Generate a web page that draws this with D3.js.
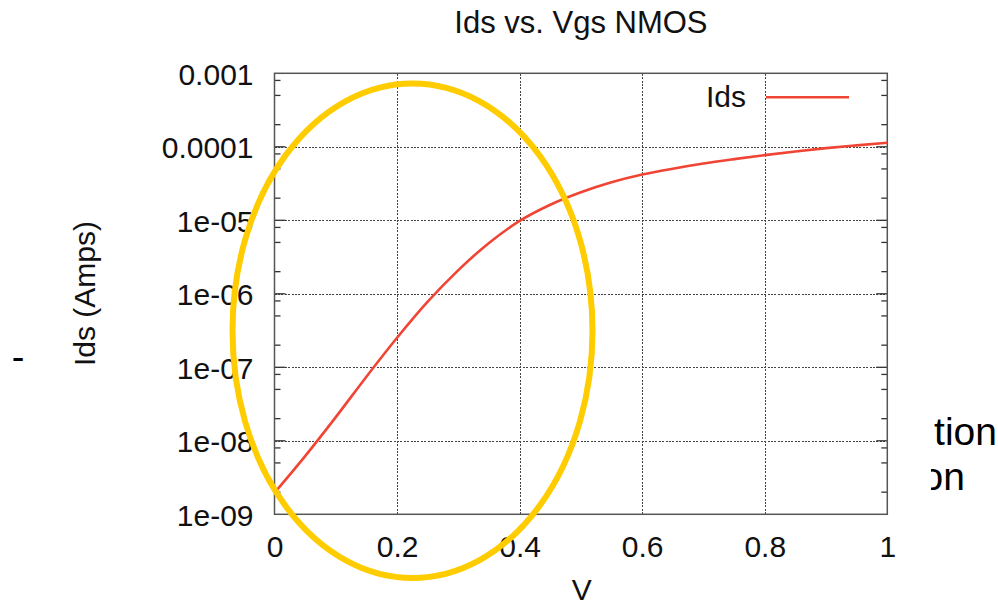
<!DOCTYPE html>
<html>
<head>
<meta charset="utf-8">
<script src="https://cdn.jsdelivr.net/npm/d3@7/dist/d3.min.js"></script>
<style>
  html, body { margin: 0; padding: 0; background: #fff; }
  svg { display: block; }
  text { font-family: "Liberation Sans", Arial, Helvetica, sans-serif; fill: #111; }
</style>
</head>
<body>
<svg id="chart" width="998" height="604"></svg>
<script>
// Gate voltage sweep (V) and drain current (A)
const vgs = [0.00, 0.05, 0.10, 0.15, 0.20, 0.25, 0.30, 0.35, 0.40, 0.45, 0.50,
             0.55, 0.60, 0.65, 0.70, 0.75, 0.80, 0.85, 0.90, 0.95, 1.00];
const ids = [1.96e-9, 6.19e-9, 2.10e-8, 7.45e-8, 2.52e-7, 7.80e-7, 2.10e-6, 4.92e-6, 9.82e-6, 1.63e-5, 2.41e-5,
             3.29e-5, 4.19e-5, 5.04e-5, 5.92e-5, 6.79e-5, 7.71e-5, 8.65e-5, 9.59e-5, 1.047e-4, 1.138e-4];

const xTicks = [0, 0.2, 0.4, 0.6, 0.8, 1];
const xTickLabels = ["0", "0.2", "0.4", "0.6", "0.8", "1"];
const yTicks = [1e-3, 1e-4, 1e-5, 1e-6, 1e-7, 1e-8, 1e-9];
const yTickLabels = ["0.001", "0.0001", "1e-05", "1e-06", "1e-07", "1e-08", "1e-09"];
const yMinorMultipliers = [2, 5, 8];

const titleText = "Ids vs. Vgs NMOS";
const xLabel = "V";
const yLabel = "Ids (Amps)";
const seriesName = "Ids";

const svg = d3.select("#chart");
const W = 998, H = 604;
const plot = { left: 274.5, top: 73.3, right: 887.3, bottom: 514.3 };
const pw = plot.right - plot.left, ph = plot.bottom - plot.top;

svg.append("rect").attr("width", W).attr("height", H).attr("fill", "#fff");

// Slide text peeking out from behind the chart
const clip = svg.append("defs").append("clipPath").attr("id", "slideClip");
clip.append("rect").attr("x", 931).attr("y", 0).attr("width", 80).attr("height", H);
const slide = svg.append("g").attr("clip-path", "url(#slideClip)");
slide.append("text").attr("x", 997).attr("y", 445).attr("text-anchor", "end")
  .style("font-size", "39px").style("fill", "#000").text("tion");
slide.append("text").attr("x", 965).attr("y", 490).attr("text-anchor", "end")
  .style("font-size", "39px").style("fill", "#000").text("on");
svg.append("text").attr("x", 18).attr("y", 370).attr("text-anchor", "middle")
  .style("font-size", "38px").style("fill", "#000").text("-");

const x = d3.scaleLinear().domain([0, 1]).range([plot.left, plot.right]);
const y = d3.scaleLog().domain([1e-9, 1e-3]).range([plot.bottom, plot.top]);

const axisColor = "#555";
const gridColor = "#444";

// Grid lines
const gridX = svg.append("g").attr("transform", `translate(0,${plot.bottom})`)
  .call(d3.axisBottom(x).tickValues(xTicks.slice(1, -1)).tickSize(-ph).tickFormat(""));
const gridY = svg.append("g").attr("transform", `translate(${plot.left},0)`)
  .call(d3.axisLeft(y).tickValues(yTicks.slice(1, -1)).tickSize(-pw).tickFormat(""));
[gridX, gridY].forEach(g => {
  g.select(".domain").remove();
  g.selectAll("line").attr("stroke", gridColor).attr("stroke-width", 1)
    .attr("stroke-dasharray", "2,1.4").attr("shape-rendering", "crispEdges");
});

// Minor and major ticks on left and right edges (pointing inward)
const minorVals = [];
yTicks.forEach(t => { if (t < 1e-3) yMinorMultipliers.forEach(m => { if (t * m < 1e-3) minorVals.push(t * m); }); });
const tickG = svg.append("g");
function edgeTicks(vals, len) {
  vals.forEach(v => {
    tickG.append("line").attr("x1", plot.left).attr("x2", plot.left + len)
      .attr("y1", y(v)).attr("y2", y(v)).attr("stroke", "#333").attr("stroke-width", 1.3);
    tickG.append("line").attr("x1", plot.right).attr("x2", plot.right - len)
      .attr("y1", y(v)).attr("y2", y(v)).attr("stroke", "#333").attr("stroke-width", 1.3);
  });
}
edgeTicks(minorVals, 6);
edgeTicks(yTicks.slice(1, -1), 11);

// Tick labels through axes
const yAxis = svg.append("g").attr("transform", `translate(${plot.left},0)`)
  .call(d3.axisLeft(y).tickValues(yTicks).tickSize(0).tickPadding(21)
    .tickFormat((d, i) => yTickLabels[i]));
yAxis.select(".domain").remove();
yAxis.selectAll("text").style("font-size", "30px")
  .style("font-family", "'Liberation Sans', Arial, sans-serif").attr("fill", "#111").attr("dy", "0.36em");

const xAxis = svg.append("g").attr("transform", `translate(0,${plot.bottom})`)
  .call(d3.axisBottom(x).tickValues(xTicks).tickSize(0).tickPadding(0)
    .tickFormat((d, i) => xTickLabels[i]));
xAxis.select(".domain").remove();
xAxis.selectAll("text").style("font-size", "30px")
  .style("font-family", "'Liberation Sans', Arial, sans-serif").attr("fill", "#111")
  .attr("dy", null).attr("y", 42.4);

// Plot frame
svg.append("rect").attr("x", plot.left).attr("y", plot.top).attr("width", pw).attr("height", ph)
  .attr("fill", "none").attr("stroke", axisColor).attr("stroke-width", 1.5);

// Data curve
const line = d3.line().x((d, i) => x(vgs[i])).y((d, i) => y(ids[i])).curve(d3.curveMonotoneX);
svg.append("path").datum(ids).attr("d", line)
  .attr("fill", "none").attr("stroke", "#f04535").attr("stroke-width", 2.6);

// Legend
svg.append("text").attr("x", 746).attr("y", 106.7).attr("text-anchor", "end")
  .style("font-size", "30px").text(seriesName);
svg.append("line").attr("x1", 766).attr("x2", 849).attr("y1", 97.3).attr("y2", 97.3)
  .attr("stroke", "#f04535").attr("stroke-width", 2.6);

// Titles
svg.append("text").attr("x", (plot.left + plot.right) / 2).attr("y", 33.3)
  .attr("text-anchor", "middle").style("font-size", "31px").text(titleText);
svg.append("text").attr("x", 581.7).attr("y", 600)
  .attr("text-anchor", "middle").style("font-size", "30px").text(xLabel);
svg.append("text").attr("transform", "translate(95,293.5) rotate(-90)")
  .attr("text-anchor", "middle").style("font-size", "30px").text(yLabel);

// Highlight ring around the subthreshold region
svg.append("ellipse").attr("cx", 412.5).attr("cy", 330.7).attr("rx", 180).attr("ry", 247.3)
  .attr("fill", "none").attr("stroke", "#ffcc00").attr("stroke-width", 6);
</script>
</body>
</html>
